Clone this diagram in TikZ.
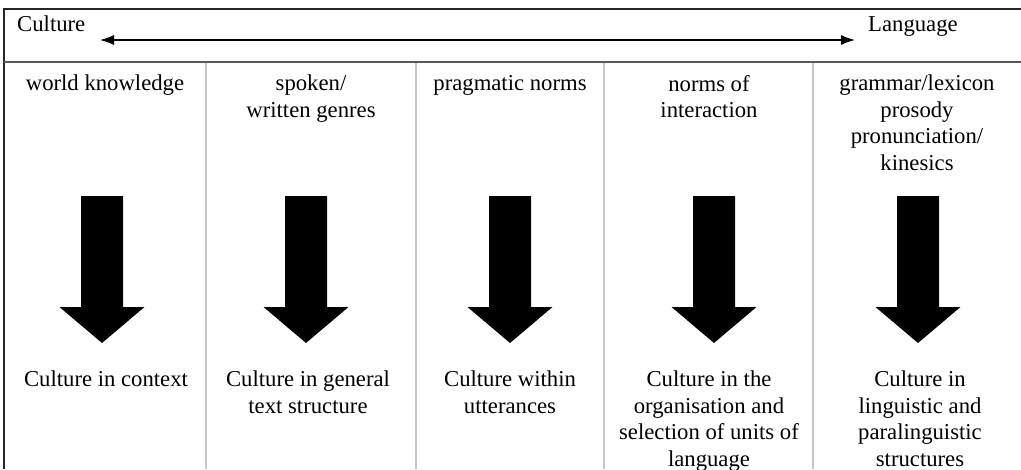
\documentclass[tikz,border=0pt]{standalone}
\usepackage{fontspec}
\setmainfont{Liberation Serif}
\usetikzlibrary{arrows.meta}
\begin{document}
\begin{tikzpicture}[x=1pt,y=-1pt,
  lbl/.style={inner sep=0pt, align=center, anchor=north, font=\fontsize{22.7}{26.5}\selectfont},
  hdr/.style={inner sep=0pt, anchor=base west, font=\fontsize{22.7}{26.5}\selectfont},
  frameline/.style={line width=1.6pt, draw=black!85},
  headline/.style={line width=1.6pt, draw=black!65},
  divider/.style={line width=1.6pt, draw=black!22},
  scale arrow/.style={line width=1.2pt, {Latex[length=14pt,width=10pt]}-{Latex[length=14pt,width=10pt]}},
  blockarrow/.style={fill=black}]
\useasboundingbox (0,0) rectangle (1021,469);
% frame
\draw[frameline] (1021,9) -- (4,9) -- (4,469);
\draw[headline] (4,62) -- (1021,62);
\foreach \x in {206,416,604,813} \draw[divider] (\x,63) -- (\x,469);
% header
\node[hdr] (culture) at (17,31.5) {Culture};
\node[hdr] (language) at (868,31.5) {Language};
\coordinate (la) at (100,40);
\coordinate (ra) at (855,40);
\draw[scale arrow] (la) -- (ra);
% block arrows
\foreach \c in {102,306,510,714,918}
  \fill[blockarrow] (\c-21,196) -- (\c+21,196) -- (\c+21,307) -- (\c+42.5,307) -- (\c,343) -- (\c-42.5,307) -- (\c-21,307) -- cycle;
% top labels
\node[lbl] (t1) at (105,75) {world knowledge};
\node[lbl] (t2) at (311,75) {spoken/\\written genres};
\node[lbl] (t3) at (510,75) {pragmatic norms};
\node[lbl] (t4) at (709,75) {norms of\\interaction};
\node[lbl] (t5) at (917,75) {grammar/lexicon\\prosody\\pronunciation/\\kinesics};
% bottom labels
\node[lbl] (b1) at (106,371) {Culture in context};
\node[lbl] (b2) at (308,371) {Culture in general\\text structure};
\node[lbl] (b3) at (510,371) {Culture within\\utterances};
\node[lbl] (b4) at (709,371) {Culture in the\\organisation and\\selection of units of\\language};
\node[lbl] (b5) at (920,371) {Culture in\\linguistic and\\paralinguistic\\structures};
\end{tikzpicture}
\end{document}
